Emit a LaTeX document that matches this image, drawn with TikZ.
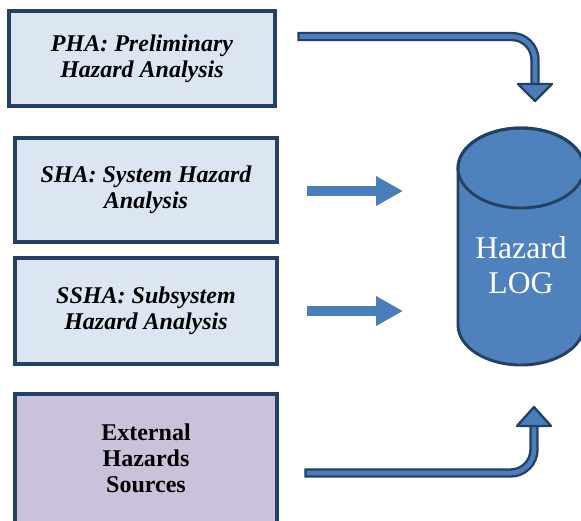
\documentclass[tikz,border=0pt]{standalone}
\usepackage{fontspec}
\setmainfont{Liberation Serif}
\usetikzlibrary{arrows.meta, positioning}

\definecolor{boxfill}{RGB}{220,230,242}
\definecolor{boxline}{RGB}{36,64,98}
\definecolor{extfill}{RGB}{204,193,218}
\definecolor{logfill}{RGB}{79,129,189}
\definecolor{arrowfill}{RGB}{74,126,187}

\begin{document}
\begin{tikzpicture}[
  x=0.03cm, y=-0.03cm,
  box/.style={draw=boxline, line width=3pt, fill=boxfill, align=center,
    inner sep=0pt, minimum width=7.86cm,
    font=\fontsize{20.5}{22}\selectfont\bfseries\itshape},
  extbox/.style={box, fill=extfill, font=\fontsize{20.5}{22}\selectfont\bfseries},
  bent/.style={draw=boxline, double=arrowfill, line width=2pt,
    double distance=4pt, rounded corners=0.7cm},
  bendhead/.style={draw=boxline, fill=arrowfill, line width=2pt, line join=round},
  straight/.style={draw=arrowfill, line width=8.5pt,
    -{Triangle[length=0.81cm, width=0.84cm]}}]

  \useasboundingbox (0,0) rectangle (581,520);

  % analysis boxes
  \node[box, minimum width=7.98cm, minimum height=2.85cm] (pha) at (142,58.5)
    {PHA: Preliminary\\Hazard Analysis};
  \node[box, minimum height=3.12cm] (sha) at (146,190)
    {SHA: System Hazard\\Analysis};
  \node[box, minimum height=3.18cm] (ssha) at (146,311)
    {SSHA: Subsystem\\Hazard Analysis};
  \node[extbox, minimum height=3.87cm] (ext) at (146,458.5)
    {External\\Hazards\\Sources};

  % hazard log cylinder
  \filldraw[fill=logfill, draw=boxline, line width=2.5pt]
    (458,168) -- (458,325)
    arc[start angle=180, end angle=360, x radius=1.89cm, y radius=1.2cm]
    -- (584,168)
    arc[start angle=0, end angle=180, x radius=1.89cm, y radius=1.2cm] -- cycle;
  \draw[boxline, line width=2.5pt] (521,168) ellipse[x radius=1.89cm, y radius=1.2cm];
  \node[font=\fontsize{27}{30}\selectfont, text=white, align=center] (log) at (521,265)
    {Hazard\\LOG};

  \coordinate (phaout) at (302,36.5);
  \coordinate (phain) at (535,85);
  \coordinate (shaout) at (307,191);
  \coordinate (shain) at (403,191);
  \coordinate (sshaout) at (307,311);
  \coordinate (sshain) at (403,311);
  \coordinate (extout) at (309,473);
  \coordinate (extin) at (534,424);

  \draw[bent, line cap=rect] (phaout) -| (phain);
  \draw[bendhead] (phain) ++(-17,-1) -- ++(34,0) -- ++(-17,17) -- cycle;
  \draw[straight] (shaout) -- (shain);
  \draw[straight] (sshaout) -- (sshain);
  \draw[bent, line cap=rect] (extout) -| (extin);
  \draw[bendhead] (extin) ++(-17,2) -- ++(34,0) -- ++(-17,-19) -- cycle;
\end{tikzpicture}
\end{document}
